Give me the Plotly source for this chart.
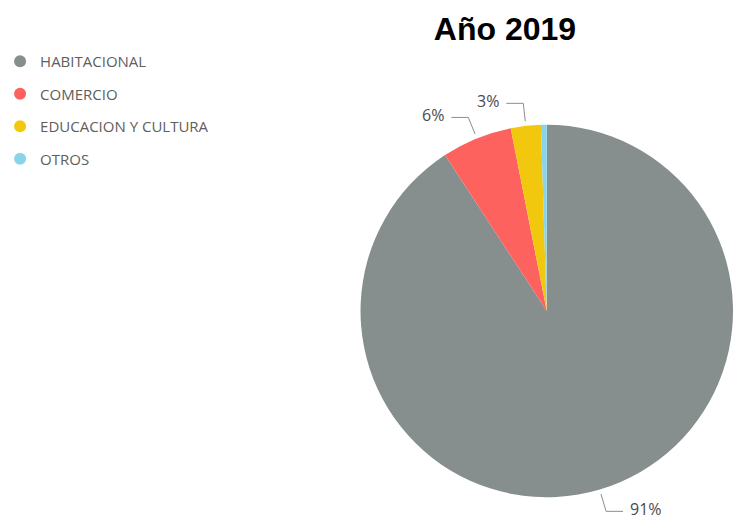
import math
import plotly.graph_objects as go

categories = ["HABITACIONAL", "COMERCIO", "EDUCACION Y CULTURA", "OTROS"]
values = [90.8, 6.1, 2.6, 0.5]
colors = ["#868E8E", "#FD625E", "#F2C80F", "#8AD4EB"]
title_text = "Año 2019"

W, H = 733, 522
dom_x = [359 / W, 1.0]
dom_y = [23 / H, 399 / H]

fig = go.Figure()
fig.add_trace(go.Pie(
    labels=categories, values=values, sort=False, direction="clockwise", rotation=0,
    marker=dict(colors=colors, line=dict(width=0)),
    textinfo="none", hoverinfo="label+percent", showlegend=False,
    domain=dict(x=dom_x, y=dom_y),
))

# legend entries
for i, (c, col) in enumerate(zip(categories, colors)):
    fig.add_trace(go.Scatter(
        x=[None], y=[None], mode="markers", name=c, legendgroup=f"g{i}",
        marker=dict(symbol="circle", size=12, color=col),
    ))

# outside labels with leader lines, derived from the slice angles
cx = (dom_x[0] + dom_x[1]) / 2 * W
cy = (1 - (dom_y[0] + dom_y[1]) / 2) * H
R = min((dom_x[1] - dom_x[0]) * W, (dom_y[1] - dom_y[0]) * H) / 2
total = sum(values)
cum = 0.0
shapes, annotations = [], []
for v in values:
    mid = (cum + v / 2) / total * 2 * math.pi
    cum += v
    pct = v / total * 100
    if pct < 2:
        continue
    ux, uy = math.sin(mid), -math.cos(mid)
    p0 = (cx + (R + 4) * ux, cy + (R + 4) * uy)
    p1 = (cx + (R + 22) * ux, cy + (R + 22) * uy)
    side = 1 if ux >= 0 else -1
    p2 = (p1[0] + side * 17, p1[1])
    px = lambda p: (p[0] / W, 1 - p[1] / H)
    a, b, c2 = px(p0), px(p1), px(p2)
    shapes.append(dict(type="path", xref="paper", yref="paper",
                       path=f"M {a[0]},{a[1]} L {b[0]},{b[1]} L {c2[0]},{c2[1]}",
                       line=dict(color="#8C8C8C", width=1)))
    annotations.append(dict(xref="paper", yref="paper",
                            x=(p2[0] + side * 5) / W, y=1 - (p2[1] - 2) / H,
                            text=f"{round(pct)}%", showarrow=False,
                            xanchor="left" if side > 0 else "right", yanchor="middle",
                            font=dict(family="Open Sans", size=16, color="#4A4A4A")))

fig.update_layout(
    width=W, height=H,
    margin=dict(l=0, r=0, t=0, b=0),
    paper_bgcolor="white", plot_bgcolor="white",
    title=dict(text=f"<b>{title_text}</b>", x=505 / W, xanchor="center",
               y=1 - 29 / H, yanchor="middle",
               font=dict(family="Liberation Sans, Arial", size=32, color="black")),
    xaxis=dict(visible=False), yaxis=dict(visible=False),
    legend=dict(x=-0.004, y=1 - 45 / H, xanchor="left", yanchor="top",
                traceorder="grouped", tracegroupgap=10,
                font=dict(family="Open Sans", size=15, color="#605E5C"),
                itemclick=False, itemdoubleclick=False),
    shapes=shapes, annotations=annotations,
)

fig.write_html("out.html", config={"displayModeBar": False},
               post_script="document.body.style.margin='0';")
